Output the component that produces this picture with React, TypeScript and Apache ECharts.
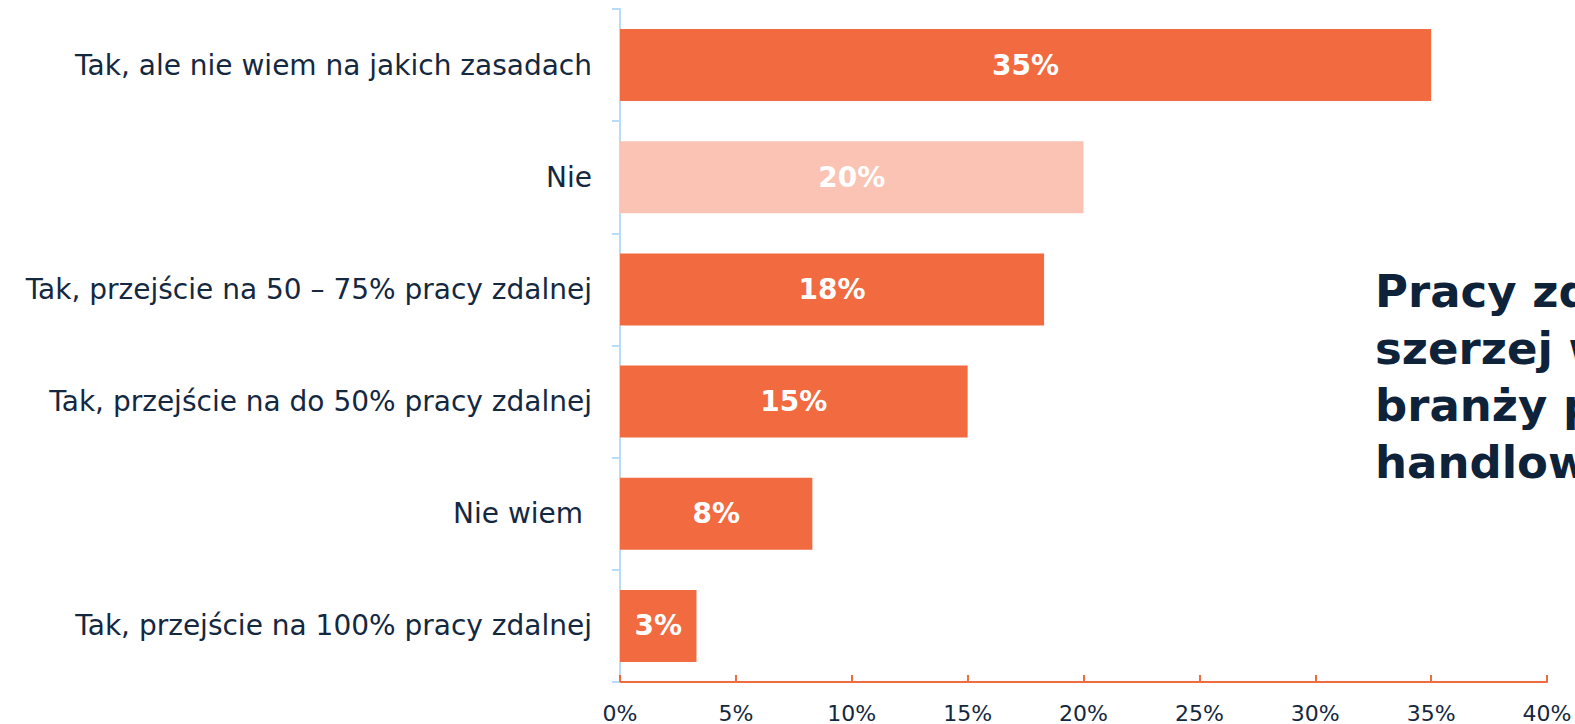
import React, { useEffect, useRef } from "react";
import * as echarts from "echarts";

const categories = [
  "Tak, ale nie wiem na jakich zasadach",
  "Nie",
  "Tak, przejście na 50 – 75% pracy zdalnej",
  "Tak, przejście na do 50% pracy zdalnej",
  "Nie wiem ",
  "Tak, przejście na 100% pracy zdalnej",
];
const values = [35, 20, 18.3, 15, 8.3, 3.3];
const barColors = ["#F26A3F", "#FAC3B3", "#F26A3F", "#F26A3F", "#F26A3F", "#F26A3F"];
const titleLines = ["Pracy zdalnej", "szerzej w", "branży produkcyjnej", "handlowej"];

const FONT = "'DejaVu Sans', 'Noto Sans', sans-serif";
const NAVY = "#14283F";

export default function App() {
  const ref = useRef<HTMLDivElement>(null);
  useEffect(() => {
    if (!ref.current) return;
    const chart = echarts.init(ref.current, null, { renderer: "svg" });
    chart.setOption({
      animation: false,
      grid: { left: 620, right: 28, top: 9, bottom: 42, containLabel: false },
      xAxis: {
        type: "value",
        min: 0,
        max: 40,
        interval: 5,
        axisLine: { show: true, lineStyle: { color: "#F26A3F", width: 2 } },
        axisTick: { show: true, inside: true, length: 7, lineStyle: { color: "#F26A3F", width: 2 } },
        splitLine: { show: false },
        axisLabel: {
          margin: 20,
          color: NAVY,
          fontFamily: FONT,
          fontSize: 22,
          formatter: (v: number) => v + "%",
        },
      },
      yAxis: {
        type: "category",
        data: categories,
        inverse: true,
        axisLine: { show: true, lineStyle: { color: "#B8DCF7", width: 2 } },
        axisTick: { show: true, length: 8, lineStyle: { color: "#B8DCF7", width: 2 } },
        axisLabel: {
          margin: 28,
          color: NAVY,
          fontFamily: FONT,
          fontSize: 28,
        },
      },
      series: [
        {
          type: "bar",
          data: values.map((v, i) => ({ value: v, itemStyle: { color: barColors[i] } })),
          barWidth: 72,
          label: {
            show: true,
            position: "inside",
            color: "#FFFFFF",
            fontFamily: FONT,
            fontWeight: "bold",
            fontSize: 28,
            formatter: (p: any) => Math.round(p.value) + "%",
          },
        },
      ],
      graphic: [
        {
          type: "text",
          left: 1375,
          top: 263,
          style: {
            text: titleLines.join("\n"),
            fill: "#0E2239",
            font: `bold 45px ${FONT}`,
            lineHeight: 57,
          },
        },
      ],
    });
    return () => chart.dispose();
  }, []);
  return (
    <div
      ref={ref}
      style={{ position: "fixed", left: 0, top: 0, width: 1575, height: 724, background: "#fff" }}
    />
  );
}
